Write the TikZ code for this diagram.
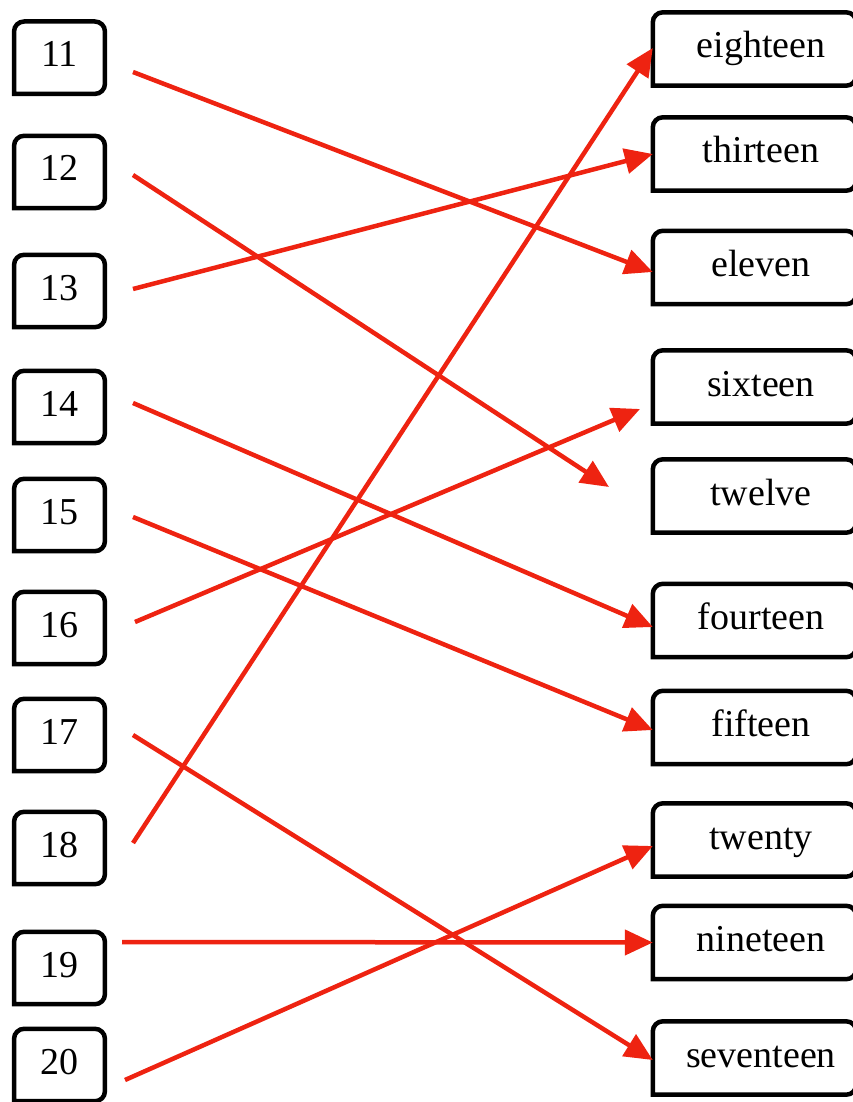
\documentclass[tikz,border=0pt]{standalone}
\usepackage{fontspec}
\setmainfont{Liberation Serif}
\usepackage{tikz}
\usepackage{xcolor}
\usetikzlibrary{arrows.meta}
\definecolor{rouge}{RGB}{238,35,17}
\tikzset{
Boite/.style={
 minimum width=90.5pt,
 minimum height=72pt,
 inner sep=0pt,
 text height=27pt,
 text depth=9pt,
 font=\fontsize{38}{40}\selectfont
 },
Mot/.style={
 Boite,
 minimum width=203pt,
 minimum height=73pt,
 execute at begin node={\hspace*{13pt}}
 },
Cadre/.style={
 draw=black,
 line width=4.5pt,
 rounded corners=10pt,
 line cap=rect
 },
Fleche/.style={
 draw=rouge,
 line width=4.5pt,
 -{Triangle[length=28pt,width=25pt]}
 }
}
\begin{document}
\begin{tikzpicture}[x=1pt,y=-1pt]
\useasboundingbox (0,0) rectangle (853,1102);
\node[Boite] (n11) at (59.5,57.7) {11};
\node[Boite] (n12) at (59.5,172) {12};
\node[Boite] (n13) at (59.5,291) {13};
\node[Boite] (n14) at (59.5,407) {14};
\node[Boite] (n15) at (59.5,515) {15};
\node[Boite] (n16) at (59.5,628) {16};
\node[Boite] (n17) at (59.5,735) {17};
\node[Boite] (n18) at (59.5,848) {18};
\node[Boite] (n19) at (59.5,968) {19};
\node[Boite] (n20) at (59.5,1065) {20};
\node[Mot] (eighteen) at (754.5,49) {eighteen};
\node[Mot] (thirteen) at (754.5,154) {thirteen};
\node[Mot] (eleven) at (754.5,267.5) {eleven};
\node[Mot] (sixteen) at (754.5,387) {sixteen};
\node[Mot] (twelve) at (754.5,496) {twelve};
\node[Mot] (fourteen) at (754.5,620.5) {fourteen};
\node[Mot] (fifteen) at (754.5,727.5) {fifteen};
\node[Mot] (twenty) at (754.5,840) {twenty};
\node[Mot] (nineteen) at (754.5,942.5) {nineteen};
\node[Mot] (seventeen) at (754.5,1058) {seventeen};
\foreach \b in {n11,n12,n13,n14,n15,n16,n17,n18,n19,n20,eighteen,thirteen,eleven,sixteen,twelve,fourteen,fifteen,twenty,nineteen,seventeen}
 \draw[Cadre] (\b.south west) -- (\b.north west) -- (\b.north east) -- (\b.south east) -- (\b.south west);
\coordinate (d11) at (133,72);
\coordinate (d12) at (133,175);
\coordinate (d13) at (133,289);
\coordinate (d14) at (133,403);
\coordinate (d15) at (133,517);
\coordinate (d16) at (135,622);
\coordinate (d17) at (133,735);
\coordinate (d18) at (133,843);
\coordinate (d19) at (122,942);
\coordinate (d20) at (125,1080);
\coordinate (f12) at (609,487);
\coordinate (f16) at (640,409);
\draw[Fleche] (d11) -- ([yshift=-4.5pt]eleven.west);
\draw[Fleche] (d12) -- (f12);
\draw[Fleche] (d13) -- (thirteen.west);
\draw[Fleche] (d14) -- ([yshift=-6.5pt]fourteen.west);
\draw[Fleche] (d15) -- ([yshift=-2.5pt]fifteen.west);
\draw[Fleche] (d16) -- (f16);
\draw[Fleche] (d17) -- ([yshift=-2pt]seventeen.west);
\draw[Fleche] (d18) -- ([yshift=1pt]eighteen.west);
\draw[Fleche] (d19) -- (nineteen.west);
\draw[Fleche] (d20) -- ([yshift=-6pt]twenty.west);
\end{tikzpicture}
\end{document}
